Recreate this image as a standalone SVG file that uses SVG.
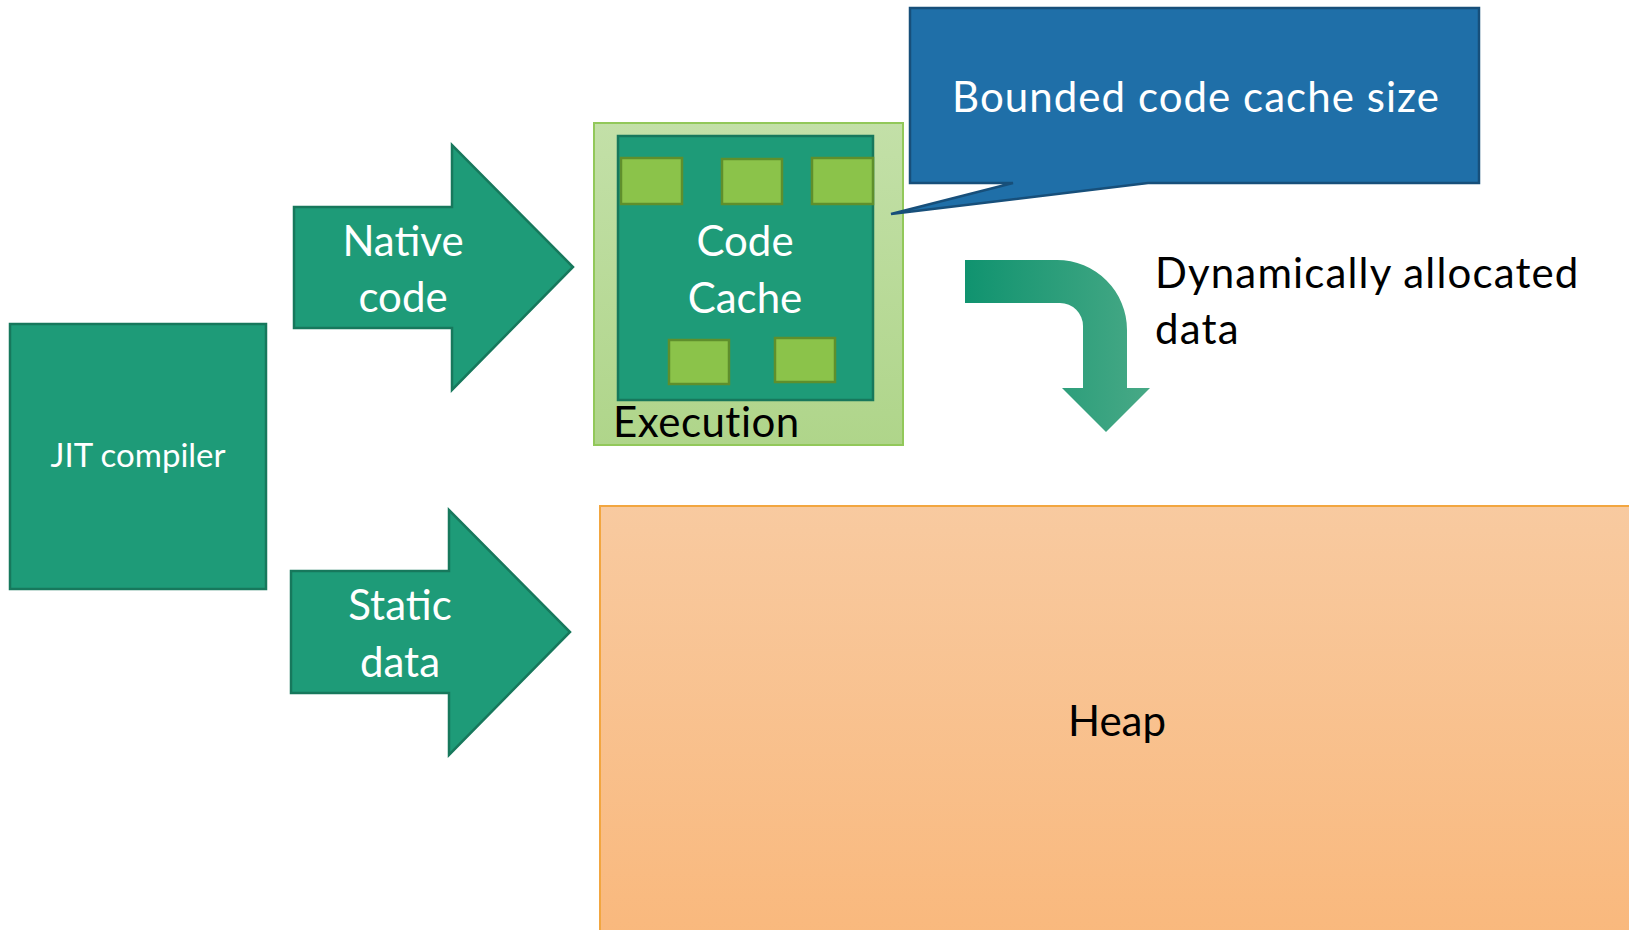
<svg xmlns="http://www.w3.org/2000/svg" width="1629" height="930" viewBox="0 0 1629 930">
  <defs>
    <linearGradient id="heapFill" x1="0" y1="0" x2="0" y2="1">
      <stop offset="0" stop-color="#f8caa0"/>
      <stop offset="1" stop-color="#f9b87c"/>
    </linearGradient>
    <linearGradient id="execFill" x1="0" y1="0" x2="0" y2="1">
      <stop offset="0" stop-color="#c3e0a8"/>
      <stop offset="1" stop-color="#afd58a"/>
    </linearGradient>
    <linearGradient id="bendFill" x1="0" y1="0" x2="1" y2="0">
      <stop offset="0" stop-color="#10936f"/>
      <stop offset="1" stop-color="#48a986"/>
    </linearGradient>
    <style>
      .green { fill: #1e9b78; stroke: #17785c; stroke-width: 2.5; }
      .chip { fill: #8bc34a; stroke: #5f8f2c; stroke-width: 2.5; }
      .lbl { font-family: Lato, "Liberation Sans", sans-serif; text-anchor: middle; }
      .txt { font-family: Lato, "Liberation Sans", sans-serif; }
      .white { fill: #ffffff; }
      .dark { fill: #000000; }
    </style>
  </defs>

  <!-- Heap area, running off the right and bottom edges -->
  <g id="heap">
    <rect x="600" y="506" width="1040" height="440" fill="url(#heapFill)" stroke="#f2a640" stroke-width="2"/>
    <text class="lbl dark" x="1117" y="736" font-size="42">Heap</text>
  </g>

  <!-- JIT compiler -->
  <g id="jit">
    <rect class="green" x="10" y="324" width="256" height="265"/>
    <text class="lbl white" x="138" y="467" font-size="33">JIT compiler</text>
  </g>

  <!-- Block arrows and the bent arrow -->
  <g id="connectors">
    <g id="native-code">
      <polygon class="green" points="294,207 452,207 452,145 573,267 452,390 452,328 294,328"/>
      <text class="lbl white" x="403" y="256" font-size="42">Native</text>
      <text class="lbl white" x="403" y="312" font-size="42">code</text>
    </g>
    <g id="static-data">
      <polygon class="green" points="291,571 449,571 449,510 570,632 449,755 449,693 291,693"/>
      <text class="lbl white" x="400" y="620" font-size="42">Static</text>
      <text class="lbl white" x="400" y="677" font-size="42">data</text>
    </g>
    <path id="dynamic-alloc" fill="url(#bendFill)" d="M965,260 H1057 A70,70 0 0 1 1127,330 V388 H1150 L1106,432 L1062,388 H1083 V326 A23,23 0 0 0 1060,303 H965 Z"/>
  </g>

  <!-- Execution region holding the code cache -->
  <g id="execution">
    <rect x="594" y="123" width="309" height="322" fill="url(#execFill)" stroke="#92c85a" stroke-width="2"/>
    <text class="txt dark" x="613" y="437" font-size="42" letter-spacing="0.5">Execution</text>
  </g>

  <g id="code-cache">
    <rect class="green" x="618" y="136" width="255" height="264"/>
    <rect class="chip" x="621" y="158" width="61" height="46"/>
    <rect class="chip" x="722" y="159" width="60" height="45"/>
    <rect class="chip" x="812" y="158" width="61" height="46"/>
    <rect class="chip" x="669" y="340" width="60" height="44"/>
    <rect class="chip" x="775" y="338" width="60" height="44"/>
    <text class="lbl white" x="745" y="256" font-size="42">Code</text>
    <text class="lbl white" x="745" y="313" font-size="42">Cache</text>
  </g>

  <!-- Callout -->
  <g id="callout">
    <path d="M910,8 H1479 V183 H1148 L891,214 L1013,183 H910 Z" fill="#1f6fa8" stroke="#174f7a" stroke-width="2.5" stroke-linejoin="miter"/>
    <text class="lbl white" x="1196" y="112" font-size="42" letter-spacing="1.05">Bounded code cache size</text>
  </g>

  <g id="dynamic-label">
    <text class="txt dark" x="1155" y="288" font-size="42" letter-spacing="1.15">Dynamically allocated</text>
    <text class="txt dark" x="1155" y="344" font-size="42" letter-spacing="1.15">data</text>
  </g>
</svg>
